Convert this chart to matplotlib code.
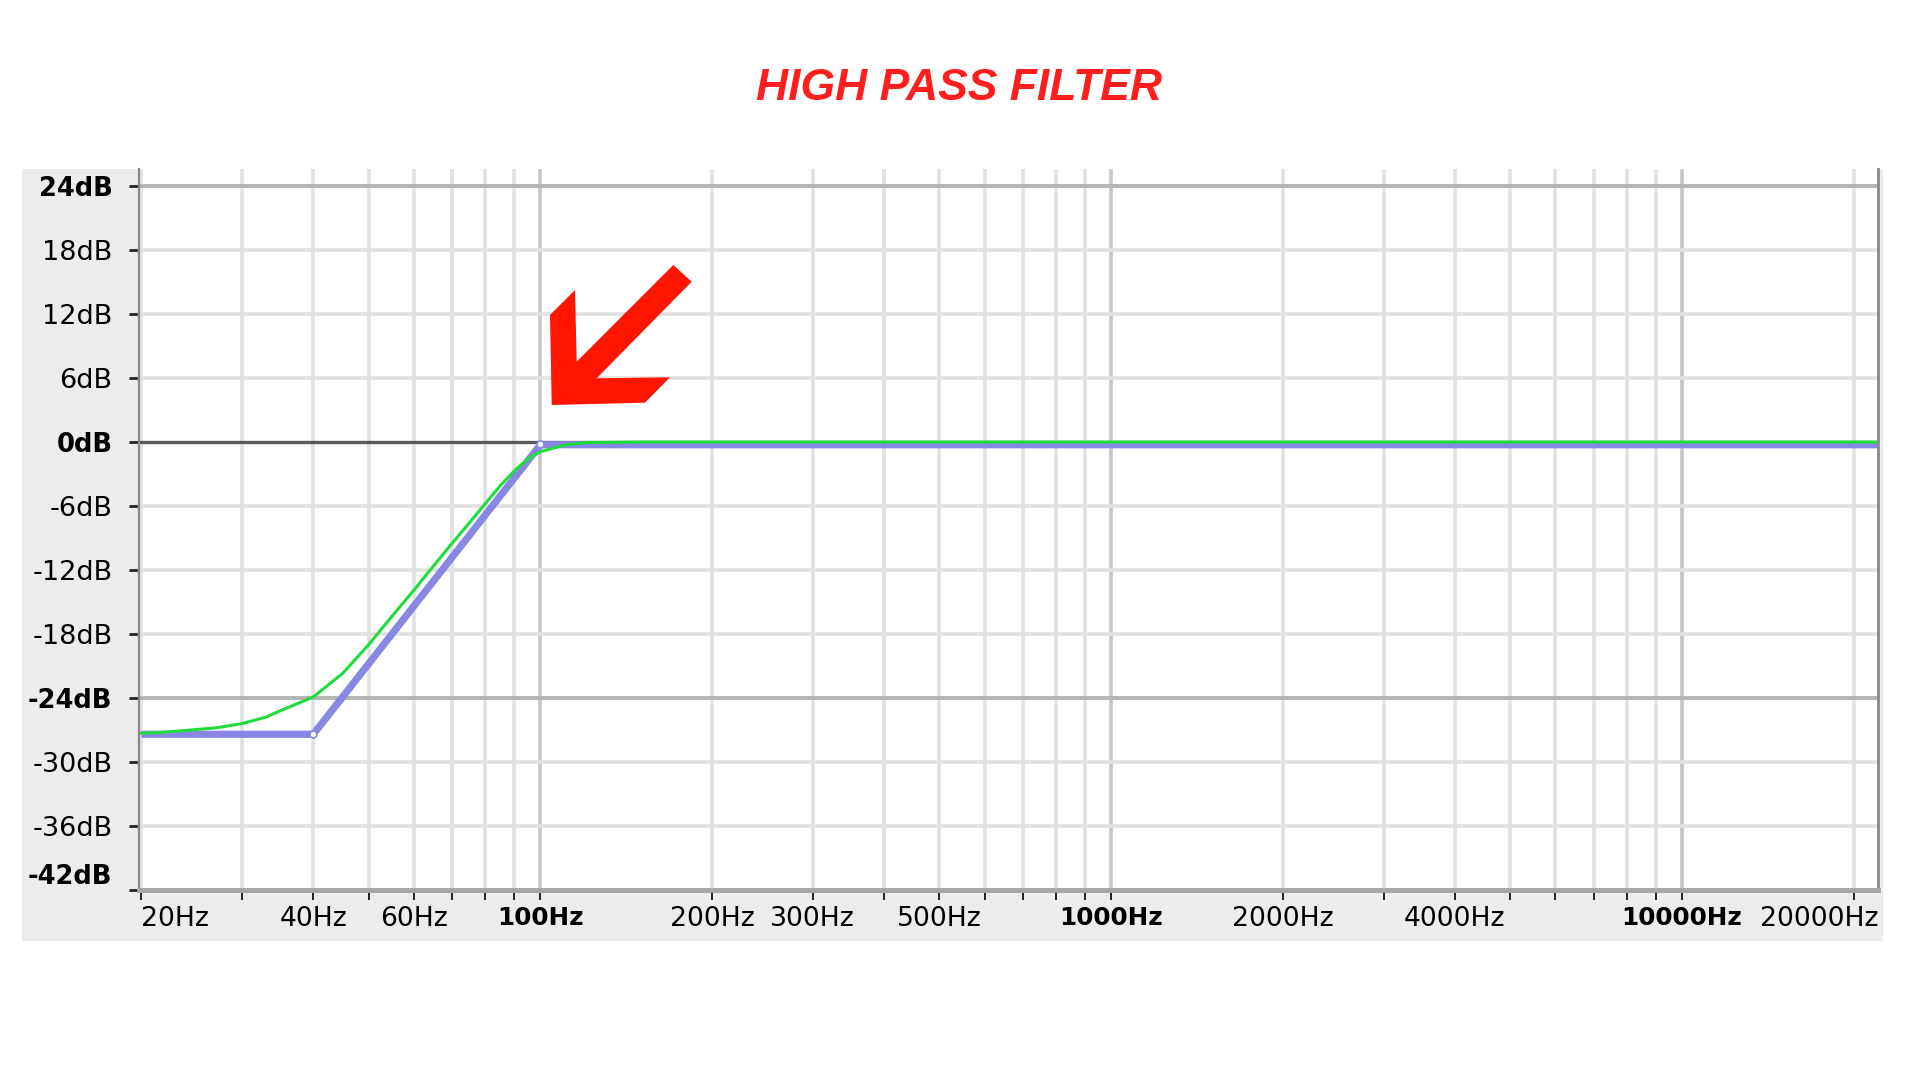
import numpy as np
import matplotlib
matplotlib.use('Agg')
import matplotlib.pyplot as plt
from matplotlib.patches import Rectangle, Polygon
from matplotlib.transforms import ScaledTranslation

# data
eq_freq = [20, 40, 100, 22050]
eq_db = [-27.4, -27.4, -0.25, -0.25]
ctrl_freq = [40, 100]
ctrl_db = [-27.4, -0.15]

resp_freq = [20, 22, 25, 27, 30, 33, 35, 40, 45, 50, 55, 60, 65, 70, 75, 80, 85, 90, 95, 100,
             110, 120, 150, 22050]
resp_db = [-27.3, -27.2, -26.95, -26.8, -26.4, -25.8, -25.2, -23.9, -21.7, -19.0, -16.3, -13.9,
           -11.6, -9.5, -7.6, -5.8, -4.1, -2.7, -1.6, -0.9, -0.3, -0.05, 0.0, 0.0]

grid_freqs = [20, 30, 40, 50, 60, 70, 80, 90, 100,
              200, 300, 400, 500, 600, 700, 800, 900, 1000,
              2000, 3000, 4000, 5000, 6000, 7000, 8000, 9000, 10000, 20000]
major_freqs = [100, 1000, 10000]
freq_labels = {20: '20Hz', 40: '40Hz', 60: '60Hz', 100: '100Hz', 200: '200Hz', 300: '300Hz',
               500: '500Hz', 1000: '1000Hz', 2000: '2000Hz', 4000: '4000Hz',
               10000: '10000Hz', 20000: '20000Hz'}
bold_freqs = [100, 1000, 10000]

db_ticks = [24, 18, 12, 6, 0, -6, -12, -18, -24, -30, -36, -42]
bold_db = [24, 0, -24, -42]

W, H = 1920, 1080
fig = plt.figure(figsize=(19.2, 10.8), dpi=100)

def fx(px):
    return px / W

def fy(py):
    return 1 - py / H

# grey panel behind the plot
panel = Rectangle((fx(22), fy(941)), fx(1883) - fx(22), fy(169) - fy(941),
                  transform=fig.transFigure, facecolor='#ececec', edgecolor='none', zorder=-5)
fig.patches.append(panel)

ax = fig.add_axes([fx(139), fy(890), fx(1878) - fx(139), fy(169) - fy(890)])
ax.set_facecolor('white')
ax.set_xscale('log')
ax.set_xlim(19.8, 22050)
ax.set_ylim(-42, 25.6)

# grid
for f in grid_freqs:
    c = '#c6c6c6' if f in major_freqs else '#e1e1e1'
    ax.axvline(f, color=c, lw=2.6, zorder=1)
for d in db_ticks:
    if d == 0:
        ax.axhline(d, color='#5a5a5a', lw=2.4, zorder=2)
    elif d in (24, -24):
        ax.axhline(d, color='#b4b4b4', lw=2.8, zorder=1)
    elif d != -42:
        ax.axhline(d, color='#e1e1e1', lw=2.6, zorder=1)

# curves
ax.plot(eq_freq, eq_db, color='#8888e4', lw=5.2, solid_capstyle='butt', zorder=3)
ax.plot(ctrl_freq, ctrl_db, 'o', ms=5, mfc='white', mec='#8888e4', mew=1.2, zorder=5)
ax.plot(resp_freq, resp_db, color='#1fdc3c', lw=2.2, zorder=4)

# spines
ax.spines['top'].set_visible(False)
ax.spines['left'].set_color('#8a8a8a')
ax.spines['left'].set_linewidth(1.6)
ax.spines['right'].set_color('#8a8a8a')
ax.spines['right'].set_linewidth(2.0)
ax.spines['bottom'].set_color('#a6a6a6')
ax.spines['bottom'].set_linewidth(3.6)
for s in ax.spines.values():
    s.set_zorder(6)

# ticks
ax.xaxis.set_minor_locator(matplotlib.ticker.NullLocator())
ax.set_xticks(grid_freqs)
ax.set_xticklabels([freq_labels.get(f, '') for f in grid_freqs])
ax.set_yticks(db_ticks)
ax.set_yticklabels([f'{d}dB' for d in db_ticks])
ax.tick_params(axis='x', direction='out', length=7.2, width=1.4, color='#222222', pad=4)
ax.tick_params(axis='y', direction='out', length=7.2, width=2.0, color='#222222', pad=12)

for f, lab in zip(grid_freqs, ax.get_xticklabels()):
    lab.set_fontfamily('DejaVu Sans')
    if f in bold_freqs:
        lab.set_fontweight('bold')
        lab.set_fontsize(17.8)
    else:
        lab.set_fontsize(19.2)
    if f == grid_freqs[0]:
        lab.set_horizontalalignment('left')
    if f == grid_freqs[-1]:
        lab.set_horizontalalignment('right')
        lab.set_transform(lab.get_transform() + ScaledTranslation(0.25, 0, fig.dpi_scale_trans))

for d, lab in zip(db_ticks, ax.get_yticklabels()):
    lab.set_fontfamily('DejaVu Sans')
    if d in bold_db:
        lab.set_fontweight('bold')
        lab.set_fontsize(18.5)
    else:
        lab.set_fontsize(19.5)
    if d == db_ticks[-1]:
        lab.set_verticalalignment('bottom')

# red arrow pointing at the cutoff
arrow_px = [(575, 290), (550, 315), (551.7, 405), (645, 402.7), (670, 377.3),
            (596.7, 378.3), (691.7, 281.7), (673.3, 265), (576.7, 361.7)]
arrow = Polygon([(fx(x), fy(y)) for x, y in arrow_px], closed=True,
                transform=fig.transFigure, facecolor='#ff1500', edgecolor='none', zorder=10)
fig.patches.append(arrow)

# title
fig.text(fx(959), fy(89), 'HIGH PASS FILTER', color='#ff1e1e', fontsize=32,
         fontweight='bold', fontstyle='italic',
         family=['Liberation Sans', 'DejaVu Sans'],
         ha='center', va='center')

fig.savefig('out.png', dpi=100)
